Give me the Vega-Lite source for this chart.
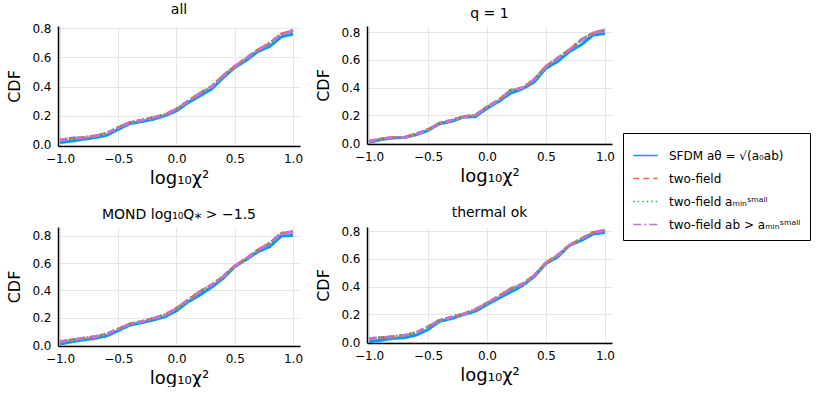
{
  "$schema": "https://vega.github.io/schema/vega-lite/v6.json",
  "background": "#ffffff",
  "padding": {"left": 6, "top": 3, "right": 0, "bottom": 0},
  "data": {
    "values": [
      {"p": "all", "x": -1.0, "a": 0.016, "b": 0.032, "c": 0.032, "d": 0.032},
      {"p": "all", "x": -0.9, "a": 0.027, "b": 0.046, "c": 0.046, "d": 0.046},
      {"p": "all", "x": -0.8, "a": 0.039, "b": 0.05, "c": 0.05, "d": 0.05},
      {"p": "all", "x": -0.7, "a": 0.05, "b": 0.062, "c": 0.062, "d": 0.062},
      {"p": "all", "x": -0.6, "a": 0.066, "b": 0.078, "c": 0.078, "d": 0.078},
      {"p": "all", "x": -0.5, "a": 0.107, "b": 0.119, "c": 0.119, "d": 0.119},
      {"p": "all", "x": -0.4, "a": 0.146, "b": 0.153, "c": 0.153, "d": 0.153},
      {"p": "all", "x": -0.3, "a": 0.16, "b": 0.169, "c": 0.169, "d": 0.169},
      {"p": "all", "x": -0.2, "a": 0.176, "b": 0.187, "c": 0.187, "d": 0.187},
      {"p": "all", "x": -0.1, "a": 0.2, "b": 0.206, "c": 0.206, "d": 0.206},
      {"p": "all", "x": 0.0, "a": 0.233, "b": 0.245, "c": 0.245, "d": 0.245},
      {"p": "all", "x": 0.1, "a": 0.29, "b": 0.3, "c": 0.3, "d": 0.3},
      {"p": "all", "x": 0.2, "a": 0.336, "b": 0.352, "c": 0.352, "d": 0.352},
      {"p": "all", "x": 0.3, "a": 0.382, "b": 0.398, "c": 0.398, "d": 0.398},
      {"p": "all", "x": 0.4, "a": 0.46, "b": 0.473, "c": 0.473, "d": 0.473},
      {"p": "all", "x": 0.5, "a": 0.53, "b": 0.537, "c": 0.537, "d": 0.537},
      {"p": "all", "x": 0.6, "a": 0.58, "b": 0.594, "c": 0.594, "d": 0.594},
      {"p": "all", "x": 0.7, "a": 0.64, "b": 0.65, "c": 0.65, "d": 0.65},
      {"p": "all", "x": 0.8, "a": 0.674, "b": 0.695, "c": 0.695, "d": 0.695},
      {"p": "all", "x": 0.9, "a": 0.74, "b": 0.759, "c": 0.759, "d": 0.759},
      {"p": "all", "x": 1.0, "a": 0.759, "b": 0.782, "c": 0.782, "d": 0.782},
      {"p": "q1", "x": -1.0, "a": 0.005, "b": 0.012, "c": 0.012, "d": 0.012},
      {"p": "q1", "x": -0.9, "a": 0.024, "b": 0.029, "c": 0.029, "d": 0.029},
      {"p": "q1", "x": -0.8, "a": 0.036, "b": 0.04, "c": 0.04, "d": 0.04},
      {"p": "q1", "x": -0.7, "a": 0.04, "b": 0.04, "c": 0.04, "d": 0.04},
      {"p": "q1", "x": -0.6, "a": 0.06, "b": 0.065, "c": 0.065, "d": 0.065},
      {"p": "q1", "x": -0.5, "a": 0.09, "b": 0.096, "c": 0.096, "d": 0.096},
      {"p": "q1", "x": -0.4, "a": 0.14, "b": 0.144, "c": 0.144, "d": 0.144},
      {"p": "q1", "x": -0.3, "a": 0.156, "b": 0.163, "c": 0.163, "d": 0.163},
      {"p": "q1", "x": -0.2, "a": 0.187, "b": 0.19, "c": 0.19, "d": 0.19},
      {"p": "q1", "x": -0.1, "a": 0.19, "b": 0.2, "c": 0.2, "d": 0.2},
      {"p": "q1", "x": 0.0, "a": 0.25, "b": 0.26, "c": 0.26, "d": 0.26},
      {"p": "q1", "x": 0.1, "a": 0.3, "b": 0.31, "c": 0.31, "d": 0.31},
      {"p": "q1", "x": 0.2, "a": 0.36, "b": 0.38, "c": 0.38, "d": 0.38},
      {"p": "q1", "x": 0.3, "a": 0.39, "b": 0.397, "c": 0.397, "d": 0.397},
      {"p": "q1", "x": 0.4, "a": 0.44, "b": 0.457, "c": 0.457, "d": 0.457},
      {"p": "q1", "x": 0.5, "a": 0.54, "b": 0.553, "c": 0.553, "d": 0.553},
      {"p": "q1", "x": 0.6, "a": 0.59, "b": 0.613, "c": 0.613, "d": 0.613},
      {"p": "q1", "x": 0.7, "a": 0.66, "b": 0.673, "c": 0.673, "d": 0.673},
      {"p": "q1", "x": 0.8, "a": 0.71, "b": 0.745, "c": 0.745, "d": 0.745},
      {"p": "q1", "x": 0.9, "a": 0.78, "b": 0.793, "c": 0.793, "d": 0.793},
      {"p": "q1", "x": 1.0, "a": 0.79, "b": 0.817, "c": 0.817, "d": 0.817},
      {"p": "mond", "x": -1.0, "a": 0.007, "b": 0.024, "c": 0.024, "d": 0.024},
      {"p": "mond", "x": -0.9, "a": 0.024, "b": 0.037, "c": 0.037, "d": 0.037},
      {"p": "mond", "x": -0.8, "a": 0.037, "b": 0.049, "c": 0.049, "d": 0.049},
      {"p": "mond", "x": -0.7, "a": 0.049, "b": 0.061, "c": 0.061, "d": 0.061},
      {"p": "mond", "x": -0.6, "a": 0.066, "b": 0.08, "c": 0.08, "d": 0.08},
      {"p": "mond", "x": -0.5, "a": 0.105, "b": 0.117, "c": 0.117, "d": 0.117},
      {"p": "mond", "x": -0.4, "a": 0.146, "b": 0.154, "c": 0.154, "d": 0.154},
      {"p": "mond", "x": -0.3, "a": 0.163, "b": 0.171, "c": 0.171, "d": 0.171},
      {"p": "mond", "x": -0.2, "a": 0.183, "b": 0.195, "c": 0.195, "d": 0.195},
      {"p": "mond", "x": -0.1, "a": 0.207, "b": 0.22, "c": 0.22, "d": 0.22},
      {"p": "mond", "x": 0.0, "a": 0.251, "b": 0.268, "c": 0.268, "d": 0.268},
      {"p": "mond", "x": 0.1, "a": 0.317, "b": 0.329, "c": 0.329, "d": 0.329},
      {"p": "mond", "x": 0.2, "a": 0.366, "b": 0.39, "c": 0.39, "d": 0.39},
      {"p": "mond", "x": 0.3, "a": 0.422, "b": 0.439, "c": 0.439, "d": 0.439},
      {"p": "mond", "x": 0.4, "a": 0.488, "b": 0.5, "c": 0.5, "d": 0.5},
      {"p": "mond", "x": 0.5, "a": 0.573, "b": 0.578, "c": 0.578, "d": 0.578},
      {"p": "mond", "x": 0.6, "a": 0.627, "b": 0.634, "c": 0.634, "d": 0.634},
      {"p": "mond", "x": 0.7, "a": 0.683, "b": 0.695, "c": 0.695, "d": 0.695},
      {"p": "mond", "x": 0.8, "a": 0.72, "b": 0.744, "c": 0.744, "d": 0.744},
      {"p": "mond", "x": 0.9, "a": 0.798, "b": 0.817, "c": 0.817, "d": 0.817},
      {"p": "mond", "x": 1.0, "a": 0.802, "b": 0.829, "c": 0.829, "d": 0.829},
      {"p": "th", "x": -1.0, "a": 0.002, "b": 0.024, "c": 0.024, "d": 0.024},
      {"p": "th", "x": -0.9, "a": 0.012, "b": 0.031, "c": 0.031, "d": 0.031},
      {"p": "th", "x": -0.8, "a": 0.026, "b": 0.038, "c": 0.038, "d": 0.038},
      {"p": "th", "x": -0.7, "a": 0.031, "b": 0.048, "c": 0.048, "d": 0.048},
      {"p": "th", "x": -0.6, "a": 0.05, "b": 0.067, "c": 0.067, "d": 0.067},
      {"p": "th", "x": -0.5, "a": 0.09, "b": 0.11, "c": 0.11, "d": 0.11},
      {"p": "th", "x": -0.4, "a": 0.15, "b": 0.157, "c": 0.157, "d": 0.157},
      {"p": "th", "x": -0.3, "a": 0.169, "b": 0.179, "c": 0.179, "d": 0.179},
      {"p": "th", "x": -0.2, "a": 0.198, "b": 0.202, "c": 0.202, "d": 0.202},
      {"p": "th", "x": -0.1, "a": 0.221, "b": 0.233, "c": 0.233, "d": 0.233},
      {"p": "th", "x": 0.0, "a": 0.269, "b": 0.281, "c": 0.281, "d": 0.281},
      {"p": "th", "x": 0.1, "a": 0.317, "b": 0.329, "c": 0.329, "d": 0.329},
      {"p": "th", "x": 0.2, "a": 0.36, "b": 0.383, "c": 0.383, "d": 0.383},
      {"p": "th", "x": 0.3, "a": 0.407, "b": 0.417, "c": 0.417, "d": 0.417},
      {"p": "th", "x": 0.4, "a": 0.471, "b": 0.479, "c": 0.479, "d": 0.479},
      {"p": "th", "x": 0.5, "a": 0.567, "b": 0.571, "c": 0.571, "d": 0.571},
      {"p": "th", "x": 0.6, "a": 0.614, "b": 0.626, "c": 0.626, "d": 0.626},
      {"p": "th", "x": 0.7, "a": 0.698, "b": 0.698, "c": 0.698, "d": 0.698},
      {"p": "th", "x": 0.8, "a": 0.733, "b": 0.745, "c": 0.745, "d": 0.745},
      {"p": "th", "x": 0.9, "a": 0.78, "b": 0.79, "c": 0.79, "d": 0.79},
      {"p": "th", "x": 1.0, "a": 0.79, "b": 0.805, "c": 0.805, "d": 0.805}
    ]
  },
  "vconcat": [
    {
      "spacing": 12,
      "hconcat": [
        {
          "title": "all",
          "width": 242,
          "height": 120,
          "transform": [{"filter": "datum.p == 'all'"}, {"fold": ["a", "b", "c", "d"], "as": ["s", "v"]}],
          "mark": {"type": "line", "strokeWidth": 3, "clip": true},
          "encoding": {
            "x": {"field": "x", "type": "quantitative", "scale": {"domain": [-1.017, 1.06], "nice": false, "zero": false}, "axis": {"values": [-1, -0.5, 0, 0.5, 1], "format": ".1f", "title": "log₁₀χ²"}},
            "y": {"field": "v", "type": "quantitative", "scale": {"domain": [-0.007, 0.814], "nice": false, "zero": false}, "axis": {"values": [0, 0.2, 0.4, 0.6, 0.8], "format": ".1f", "title": "CDF"}},
            "color": {"field": "s", "type": "nominal", "scale": {"domain": ["a", "b", "c", "d"], "range": ["#009AFA", "#E36F47", "#3EA44E", "#C371D2"]}, "legend": {"labelExpr": "datum.label == 'a' ? 'SFDM aθ = √(a₀ab)' : datum.label == 'b' ? 'two-field' : datum.label == 'c' ? 'two-field aₘᵢₙˢᵐᵃˡˡ' : 'two-field ab > aₘᵢₙˢᵐᵃˡˡ'"}},
            "strokeDash": {"field": "s", "type": "nominal", "scale": {"domain": ["a", "b", "c", "d"], "range": [[1, 0], [6, 4], [1.5, 3], [8, 3, 2, 3]]}, "legend": {"labelExpr": "datum.label == 'a' ? 'SFDM aθ = √(a₀ab)' : datum.label == 'b' ? 'two-field' : datum.label == 'c' ? 'two-field aₘᵢₙˢᵐᵃˡˡ' : 'two-field ab > aₘᵢₙˢᵐᵃˡˡ'"}}
          }
        },
        {
          "title": "q = 1",
          "width": 245,
          "height": 118,
          "transform": [{"filter": "datum.p == 'q1'"}, {"fold": ["a", "b", "c", "d"], "as": ["s", "v"]}],
          "mark": {"type": "line", "strokeWidth": 3, "clip": true},
          "encoding": {
            "x": {"field": "x", "type": "quantitative", "scale": {"domain": [-1.017, 1.06], "nice": false, "zero": false}, "axis": {"values": [-1, -0.5, 0, 0.5, 1], "format": ".1f", "title": "log₁₀χ²"}},
            "y": {"field": "v", "type": "quantitative", "scale": {"domain": [-0.007, 0.845], "nice": false, "zero": false}, "axis": {"values": [0, 0.2, 0.4, 0.6, 0.8], "format": ".1f", "title": "CDF"}},
            "color": {"field": "s", "type": "nominal", "scale": {"domain": ["a", "b", "c", "d"], "range": ["#009AFA", "#E36F47", "#3EA44E", "#C371D2"]}, "legend": {"labelExpr": "datum.label == 'a' ? 'SFDM aθ = √(a₀ab)' : datum.label == 'b' ? 'two-field' : datum.label == 'c' ? 'two-field aₘᵢₙˢᵐᵃˡˡ' : 'two-field ab > aₘᵢₙˢᵐᵃˡˡ'"}},
            "strokeDash": {"field": "s", "type": "nominal", "scale": {"domain": ["a", "b", "c", "d"], "range": [[1, 0], [6, 4], [1.5, 3], [8, 3, 2, 3]]}, "legend": {"labelExpr": "datum.label == 'a' ? 'SFDM aθ = √(a₀ab)' : datum.label == 'b' ? 'two-field' : datum.label == 'c' ? 'two-field aₘᵢₙˢᵐᵃˡˡ' : 'two-field ab > aₘᵢₙˢᵐᵃˡˡ'"}}
          }
        }
      ]
    },
    {
      "spacing": 12,
      "hconcat": [
        {
          "title": "MOND log₁₀Q⁎ > −1.5",
          "width": 242,
          "height": 119,
          "transform": [{"filter": "datum.p == 'mond'"}, {"fold": ["a", "b", "c", "d"], "as": ["s", "v"]}],
          "mark": {"type": "line", "strokeWidth": 3, "clip": true},
          "encoding": {
            "x": {"field": "x", "type": "quantitative", "scale": {"domain": [-1.017, 1.06], "nice": false, "zero": false}, "axis": {"values": [-1, -0.5, 0, 0.5, 1], "format": ".1f", "title": "log₁₀χ²"}},
            "y": {"field": "v", "type": "quantitative", "scale": {"domain": [-0.007, 0.864], "nice": false, "zero": false}, "axis": {"values": [0, 0.2, 0.4, 0.6, 0.8], "format": ".1f", "title": "CDF"}},
            "color": {"field": "s", "type": "nominal", "scale": {"domain": ["a", "b", "c", "d"], "range": ["#009AFA", "#E36F47", "#3EA44E", "#C371D2"]}, "legend": {"labelExpr": "datum.label == 'a' ? 'SFDM aθ = √(a₀ab)' : datum.label == 'b' ? 'two-field' : datum.label == 'c' ? 'two-field aₘᵢₙˢᵐᵃˡˡ' : 'two-field ab > aₘᵢₙˢᵐᵃˡˡ'"}},
            "strokeDash": {"field": "s", "type": "nominal", "scale": {"domain": ["a", "b", "c", "d"], "range": [[1, 0], [6, 4], [1.5, 3], [8, 3, 2, 3]]}, "legend": {"labelExpr": "datum.label == 'a' ? 'SFDM aθ = √(a₀ab)' : datum.label == 'b' ? 'two-field' : datum.label == 'c' ? 'two-field aₘᵢₙˢᵐᵃˡˡ' : 'two-field ab > aₘᵢₙˢᵐᵃˡˡ'"}}
          }
        },
        {
          "title": "thermal ok",
          "width": 245,
          "height": 116,
          "transform": [{"filter": "datum.p == 'th'"}, {"fold": ["a", "b", "c", "d"], "as": ["s", "v"]}],
          "mark": {"type": "line", "strokeWidth": 3, "clip": true},
          "encoding": {
            "x": {"field": "x", "type": "quantitative", "scale": {"domain": [-1.017, 1.06], "nice": false, "zero": false}, "axis": {"values": [-1, -0.5, 0, 0.5, 1], "format": ".1f", "title": "log₁₀χ²"}},
            "y": {"field": "v", "type": "quantitative", "scale": {"domain": [-0.007, 0.83], "nice": false, "zero": false}, "axis": {"values": [0, 0.2, 0.4, 0.6, 0.8], "format": ".1f", "title": "CDF"}},
            "color": {"field": "s", "type": "nominal", "scale": {"domain": ["a", "b", "c", "d"], "range": ["#009AFA", "#E36F47", "#3EA44E", "#C371D2"]}, "legend": {"labelExpr": "datum.label == 'a' ? 'SFDM aθ = √(a₀ab)' : datum.label == 'b' ? 'two-field' : datum.label == 'c' ? 'two-field aₘᵢₙˢᵐᵃˡˡ' : 'two-field ab > aₘᵢₙˢᵐᵃˡˡ'"}},
            "strokeDash": {"field": "s", "type": "nominal", "scale": {"domain": ["a", "b", "c", "d"], "range": [[1, 0], [6, 4], [1.5, 3], [8, 3, 2, 3]]}, "legend": {"labelExpr": "datum.label == 'a' ? 'SFDM aθ = √(a₀ab)' : datum.label == 'b' ? 'two-field' : datum.label == 'c' ? 'two-field aₘᵢₙˢᵐᵃˡˡ' : 'two-field ab > aₘᵢₙˢᵐᵃˡˡ'"}}
          }
        }
      ]
    }
  ],
  "spacing": 19,
  "config": {
    "font": "DejaVu Sans",
    "view": {"stroke": null},
    "title": {"fontSize": 14, "fontWeight": "normal", "color": "#000000", "offset": 5},
    "axis": {
      "labelFontSize": 12,
      "labelColor": "#000000",
      "titleFontSize": 16,
      "titleFontWeight": "normal",
      "titleColor": "#000000",
      "domainColor": "#000000",
      "domainWidth": 1.5,
      "ticks": false,
      "labelPadding": 7,
      "gridColor": "#e6e6e6",
      "gridWidth": 1,
      "labelFlush": false,
      "labelOverlap": false
    },
    "axisX": {"titlePadding": 5, "titleFontSize": 18},
    "axisY": {"titlePadding": 9},
    "legend": {
      "orient": "none",
      "legendX": 565,
      "legendY": 107,
      "title": null,
      "strokeColor": "#000000",
      "padding": 9,
      "symbolType": "stroke",
      "symbolSize": 600,
      "symbolStrokeWidth": 1.6,
      "labelFontSize": 12,
      "labelColor": "#000000",
      "labelOffset": 10,
      "rowPadding": 3
    }
  }
}
